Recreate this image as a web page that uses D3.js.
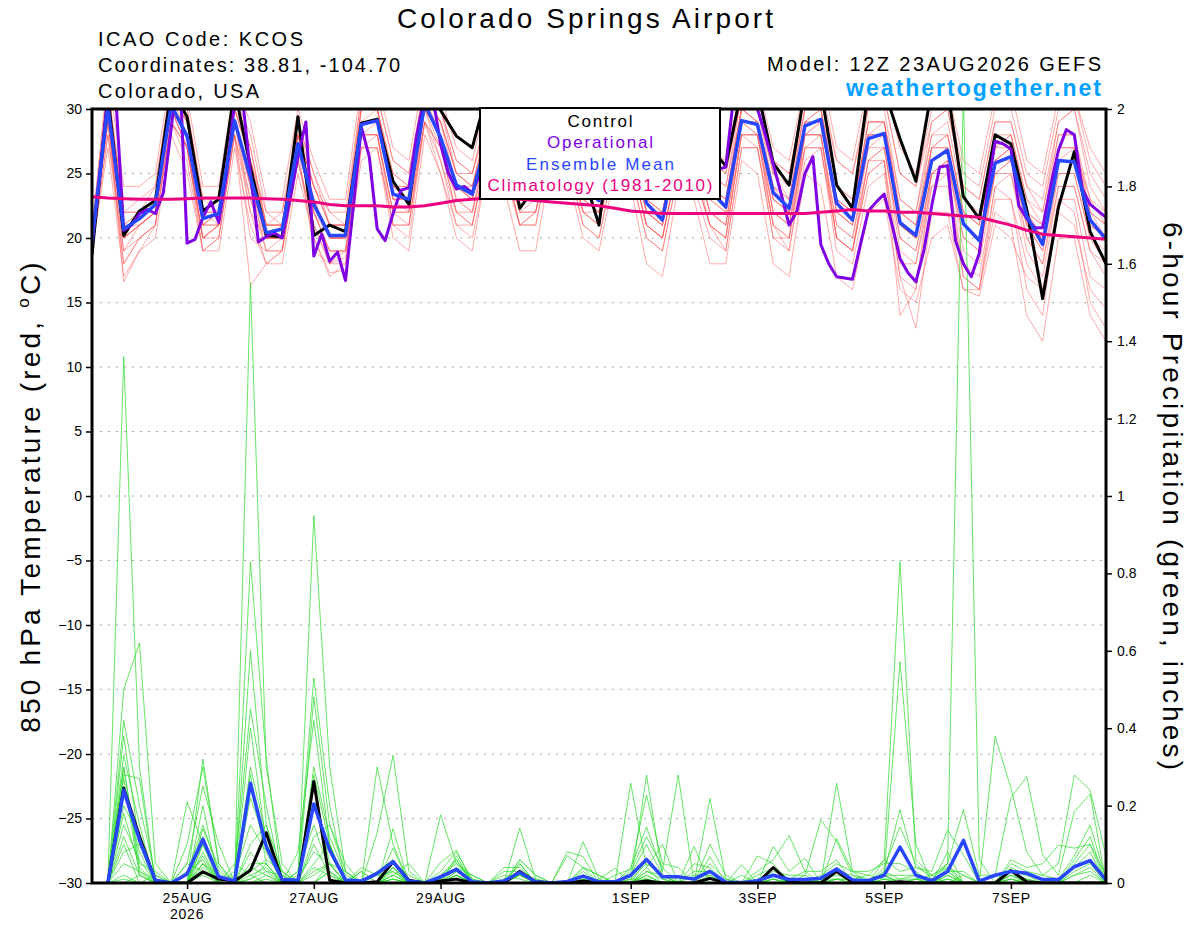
<!DOCTYPE html>
<html>
<head>
<meta charset="utf-8">
<script src="https://cdn.jsdelivr.net/npm/d3@7"></script>
<style>
  body { margin: 0; background: #fff; }
  svg text { font-family: "Liberation Sans", Arial, Helvetica, sans-serif; }
</style>
</head>
<body>
<div id="chart"></div>
<script>
// GEFS meteogram, 12Z run, 6-hourly steps (operational is 3-hourly)
const runStart = Date.UTC(2026, 7, 23, 12);

const tickDates = ["2026-08-25", "2026-08-27", "2026-08-29", "2026-09-01", "2026-09-03", "2026-09-05", "2026-09-07"];
const tickLabels = ["25AUG", "27AUG", "29AUG", "1SEP", "3SEP", "5SEP", "7SEP"];
const tempTicks = [-30, -25, -20, -15, -10, -5, 0, 5, 10, 15, 20, 25, 30];
const precipTicks = [0, 0.2, 0.4, 0.6, 0.8, 1, 1.2, 1.4, 1.6, 1.8, 2];
const legendItems = ["Control", "Operational", "Ensemble Mean", "Climatology (1981-2010)"];

// 850 hPa temperature, steps 0..64
const tempControl = [18.7,31,20.2,22.1,22.9,31.5,29.4,22.1,23.0,31.5,25.5,20.2,20.1,29.4,20.2,21.0,20.5,28.9,29.2,24.4,22.6,31.5,29.9,27.9,27.0,31.5,29,22.3,24,31,29.5,25,21.0,30.5,29.5,25.5,24.5,31,30.5,27,25.6,31.5,31.5,25.8,24.1,31.5,31.5,24.1,22.3,31.5,31.5,27.7,24.4,31.5,31.5,23.2,21.5,28.0,27.3,22.2,15.3,22.4,26.7,20.5,18.0];
const tempMean = [19.8,30.2,20.7,21.5,22.6,30.3,27.9,21.5,21.9,29.1,24.7,20.4,20.7,27.3,22.6,20.2,20.2,28.8,29.1,23.4,23.0,30.4,27.8,24.1,23.4,28,27,23.5,24,28.5,27.5,24,22.9,28,27.5,22.7,21.4,27.5,27,23.7,22.4,29.1,28.8,23.5,22.3,28.7,29.2,22.7,21.4,27.7,28.1,21.2,20.2,26.0,26.8,21.1,19.8,25.8,26.3,21.7,19.5,26.0,25.9,21.4,19.9];
const tempClimo = [23.2,23.1,23.05,23.0,23.0,23.0,23.05,23.1,23.1,23.1,23.1,23.05,23.0,22.9,22.8,22.6,22.5,22.5,22.5,22.4,22.4,22.5,22.7,22.9,23.0,23.1,23.1,23.0,22.9,22.8,22.7,22.6,22.5,22.3,22.1,22.0,21.9,21.9,21.9,21.9,21.9,21.9,21.9,21.9,21.9,21.9,22.0,22.1,22.2,22.1,22.1,22.0,22.0,21.9,21.8,21.7,21.6,21.3,21.0,20.6,20.3,20.2,20.1,20.0,19.9];
// operational, 3-hourly steps 0..128
const tempOperational = [19.5,25,31,31,20.6,21.0,21.9,22.2,21.9,23.5,28.5,34,19.6,19.9,21.6,22.8,21.2,25,30.5,30.8,25,19.7,20.1,20.4,20.0,23.0,26.3,29,18.6,20.3,18.2,18.9,16.7,22.5,28.6,26.3,20.7,19.8,21.9,23.7,23.9,28,31,31,27.3,25,23.8,24.0,23.5,25,28,31,31,29,26,25,24.5,25,28,31,31,29,27,25,24.5,25,28,31,31,29,27,25.5,24.5,25,28,31,31,28,26,25.3,25.5,31,32,31,30,28,25.7,23.4,21.0,22.1,25.0,26.3,19.5,18.0,17.0,16.9,16.8,19.5,22.1,22.8,23.4,21,18.4,17.3,16.6,19,22.5,25.5,25.6,19.8,18,17.0,18.8,23.5,27.5,27.3,26.9,22.5,21.5,20.8,20.8,24,26.8,28.4,28.0,23.8,22.6,22.1,21.6];

const tempMembers = [
  [20,31,22,23,24,32,30,23,23,31,28,22,22,29,25,22,22,31,31,26,25,32,30,26,25,30,29,25,26,30,30,26,25,30,30,25,24,30,30,26,25,31,31,26,25,31,32,26,25,31,31,25,24,30,31,25,24,30,30,25,24,30,31,26,24],
  [20.5,32,21,22,23,31,29,22,22,30,27,21,21,29,24,21,21,30,30,25,24,31,29,25,24,29,28,24,25,30,29,25,24,29,29,24,23,29,29,25,24,31,30,25,23,30,31,24,23,30,30,23,22,29,30,24,23,29,29,24,22,29,30,24,22],
  [19.5,30,20,21,22,30,28,21,21,29,25,20,20,28,23,20,20,29,29,24,23,30,28,24,23,28,27,23,24,29,28,24,23,28,28,23,22,28,28,24,23,30,29,24,23,29,30,23,22,29,29,22,21,27,28,22,21,27,28,23,21,27,27,23,21],
  [20,29,19,20,21,29,27,20,21,29,24,19,20,27,22,19,19,28,29,23,23,31,28,24,23,28,27,23,23,28,27,23,22,27,27,22,21,27,26,23,22,29,29,23,22,28,29,22,21,28,28,21,20,27,27,21,20,26,27,22,20,26,26,21,20],
  [19,28,18,20,21,29,26,19,20,28,22,18,19,26,21,18,18,28,28,22,21,30,26,22,22,27,26,22,23,28,27,23,22,27,26,21,20,26,26,22,21,28,28,22,21,27,28,21,20,26,27,20,19,25,26,20,19,25,26,21,19,25,25,20,19],
  [20.5,33,24,24,25,33,31,24,24,32,29,23,23,30,26,23,23,32,32,27,26,33,31,27,26,31,30,26,27,31,31,27,26,31,31,26,25,31,31,27,26,32,32,27,26,32,33,27,26,32,32,27,25,31,31.5,26,25,31,31.5,26,25,31,31,27,25],
  [19,27,17,19,20,28,25,19,19,27,21,18,18,25,20,17,18,26,27,21,20,29,25,21,20,26,25,21,21,27,26,21,20,26,25,20,19,25,24,20,19,27,27,20,19,26,27,20,19,25,26,18,18,24,25,18,17,24,25,19,17,24,24,19,18],
  [20,30,16.6,19,21,30,27,20,20,28,16.3,18,19,26,20,17.3,17.5,27,27,20,19,28,25,20,19,26,24,19,19,26,25,20,19,25,24,18,17,24,23,18,18,26,25,18,17,25,24,17,16,22,23,16,15,20,21,16,15.5,21,20,17,16,22,21,16,14.5],
  [20,31,22,22,23,31,29,22,23,30,26,21,22,28,24,21,21,30,30,24,24,31,29,25,25,29,28,24,24,29,28,24,23,29,28,23,22,28,28,24,23,30,29,24,22,29,29,23,22,29,29,22,21,27,28,22,21,27,27,22,21,26,27,22,21],
  [19.5,29,20,21,22,30,28,21,22,29,24,20,21,27,23,20,20,29,29,23,23,30,28,24,23,28,27,23,24,29,28,24,23,28,27,22,21,27,27,23,22,29,28,23,22,28,29,22,21,27,28,21,20,26,27,21,20,26,26,21,19,26,26,21,20],
  [20,31,23,23,23,31,30,23,22,30,26,22,21,28,24,22,21,30,30,25,24,31,30,25,24,29,28,25,25,29,29,25,24,29,29,24,23,29,29,25,24,30,30,25,24,30,30,24,23,28,29,23,22,28,29,23,22,27,28,23,22,28,28,23,22],
  [19,28,19,21,22,29,27,20,21,28,20,19,19,27,19,18,18.5,27,28,21,21,29,27,22,21,27,26,21,22,27,26,22,21,27,26,21,20,26,25,21,20,28,27,20,20,27,27,20,19,25,26,17,16,24,24,17,16,23,23,18,16,23,23,17,16],
  [20.5,32,22,22,24,32,29,22,22,31,27,21,21,29,25,21,21,31,31,26,25,32,30,26,25,30,29,25,26,30,29,26,25,30,30,25,24,30,30,26,25,31,31,26,25,31,31,26,25,30,31,25,24,29,30,24,23,29,29,24,23,29,30,25,23],
  [19.5,29,20,22,23,30,27,21,21,29,23,20,20,27,22,19,19,28,28,22,22,30,27,23,22,27,26,22,22,28,27,22,21,27,26,21,20,26,26,21,20,28,28,21,20,28,28,20,19,26,27,19,18,25,26,19,18,25,25,20,18,24,24,19,17],
  [20,30,21,22,22,31,28,21,22,29,25,21,21,28,23,20,20,29,30,24,23,31,29,24,24,28,27,24,24,29,28,24,23,28,28,23,22,28,27,24,23,30,29,23,22,29,30,23,22,28,28,21,20,27,27,21,20,26,27,22,20,27,27,22,20],
  [20,31,21,21,22,30,28,22,21,29,24,20,20,27,23,20,20,29,29,23,23,30,28,24,23,28,27,23,23,29,28,23,22,28,27,22,21,27,27,22,21,29,28,22,21,28,28,21,20,27,27,20,19,25,26,20,19,25,26,20,18,25,25,20,18],
  [19.5,30,20,21,22,30,28,20,21,29,25,20,20,28,22,20,20,29,29,23,22,30,28,23,22,28,27,22,22,28,27,22,22,28,27,22,21,27,27,22,21,29,29,22,21,29,29,22,21,28,28,21,20,26,27,21,20,26,27,21,20,26,26,21,20],
  [20,30,20,22,23,31,29,21,22,30,26,21,21,28,24,21,21,30,30,24,24,31,29,25,24,29,28,24,24,30,29,25,24,29,29,24,23,29,28,24,23,30,30,24,23,30,30,23,22,29,29,22,21,28,28,22,21,28,28,22,21,28,28,22,21],
  [19.5,29,18,20,21,29,27,19,20,28,23,19,19,26,21,18,19,27,27,21,21,29,26,21,21,27,26,21,21,27,26,21,20,26,25,20,19,25,25,21,19,27,27,21,19,27,27,19,18,24,25,17,13,22,22,16,16,22,21,14,12,20,20,14,12],
  [20,30,20,21,22,30,27,20,21,29,22,20,20,27,22,19,19,28,28,22,22,29,27,22,21,27,26,21,22,28,27,22,21,27,26,21,20,26,25,21,20,28,28,21,20,28,28,20,19,26,26,14,16,25,25,17,16,24,23,16,14,23,22,15,13]
];

// 6-hour precipitation (inches), steps 1..64
const precipControl = [0,0.245,0.12,0.005,0,0,0.029,0.01,0.005,0.033,0.13,0.007,0,0.262,0.007,0,0,0.003,0.055,0.007,0,0.005,0.01,0,0,0,0.03,0.003,0,0,0.005,0,0,0,0.005,0,0,0,0.012,0,0,0,0.04,0.002,0,0,0.03,0.002,0,0,0.003,0,0,0,0,0,0,0.032,0.003,0,0,0,0,0];
const precipMean = [0,0.24,0.111,0.007,0,0.023,0.113,0.016,0.005,0.258,0.094,0.009,0.007,0.204,0.085,0.008,0.005,0.025,0.055,0.005,0,0.016,0.035,0.003,0,0.005,0.027,0.003,0,0.004,0.018,0.003,0.003,0.02,0.061,0.016,0.016,0.01,0.03,0.002,0.001,0.006,0.02,0.009,0.009,0.012,0.036,0.008,0.006,0.02,0.093,0.02,0.006,0.03,0.11,0.005,0.02,0.03,0.025,0.009,0.009,0.042,0.058,0.008];
// one row per step, one entry per member (missing entries are dry)
const precipMembersByStep = [
  [],
  [1.36,0.5,0.42,0.38,0.33,0.3,0.28,0.25,0.2,0.18,0.15,0.12,0.1,0.08,0.05,0.02,0.01,0,0.3,0.27],
  [0.3,0.62,0.2,0.1,0.15,0.05,0.27,0.08,0.12,0.04,0.06,0.02,0,0.1,0.03,0,0,0.02,0.03,0.02],
  [0,0.05,0.02,0,0,0.03,0,0,0.01,0,0,0,0.02,0,0,0,0,0,0.01],
  [],
  [0.21,0,0.05,0,0.02,0,0.1,0,0,0.03,0,0,0,0.05],
  [0.1,0.32,0.25,0.2,0.15,0.12,0.3,0.1,0.08,0.06,0.05,0.04,0.14,0.03,0.02,0.1,0.05,0,0.07,0.05],
  [0.02,0.05,0.1,0,0.03,0,0.05,0.02,0,0,0.02,0,0.04],
  [0,0,0,0.03,0,0,0,0,0.02,0,0,0,0,0,0.05],
  [1.55,0.83,0.6,0.45,0.4,0.3,0.28,0.22,0.15,0.1,0.08,0.05,0.04,0.03,0.02,0.02,0.01,0,0.01],
  [0.3,0.32,0.15,0.2,0.1,0.12,0.05,0.1,0.08,0.15,0.03,0.05,0.02,0.06,0,0.04,0.03,0.02,0.05,0.01],
  [0.05,0,0.03,0,0.02,0,0,0.03,0,0,0.02,0,0,0.03],
  [0,0.03,0,0.08,0,0,0.02,0,0.03,0,0,0.01],
  [0.95,0.53,0.48,0.42,0.3,0.25,0.2,0.28,0.15,0.12,0.1,0.08,0.05,0.04,0.03,0,0,0.02],
  [0.3,0.2,0.15,0.1,0.12,0.05,0.08,0.1,0.03,0.15,0.02,0.05,0.1,0.02,0.05,0.03,0,0.05,0.05,0.03],
  [0.03,0,0.05,0,0.02,0,0,0,0,0.03,0,0,0,0,0.03],
  [0,0,0,0,0,0.03,0,0,0,0,0,0.04,0,0,0,0,0.03],
  [0.3,0.13,0,0,0.02,0,0,0.03,0,0,0,0.02],
  [0.1,0.33,0.14,0.09,0.06,0.05,0.04,0.06,0.03,0.04,0.02,0.03,0.04,0.02,0.01,0.02,0.01,0,0.01],
  [0,0.03,0,0,0,0.02,0,0,0,0,0.05],
  [],
  [0.176,0.053,0.03,0,0,0.02,0,0,0.02,0,0,0,0.01,0,0,0,0.01],
  [0.05,0.085,0.08,0.07,0.06,0.05,0.04,0.03,0.06,0.02,0.03,0.01,0.04,0.02,0.02,0,0.01,0.02,0.01],
  [0.02,0,0.01,0,0,0.01,0.02],
  [],
  [0,0,0,0.04,0,0.03,0,0,0.01,0,0,0.02],
  [0.142,0.06,0.05,0.04,0.06,0.03,0.02,0.05,0.03,0.02,0,0.01,0,0.02],
  [0.01,0.02,0,0,0.02,0,0,0,0.01],
  [],
  [0,0.081,0,0,0,0,0,0.07],
  [0.107,0.068,0.04,0.04,0.03,0,0.02,0.04,0,0,0.01,0,0,0,0.01],
  [0.01,0,0.02,0,0,0.01,0,0.02],
  [0.038,0,0,0.02],
  [0,0.258,0.04,0.036,0.02,0.03,0,0.01,0,0,0,0,0.01],
  [0.279,0.04,0.145,0.227,0.1,0.12,0.06,0.05,0.04,0.03,0.02,0.02,0.01,0.03,0.01,0,0.01],
  [0.02,0.1,0.03,0.05,0.02,0.04,0.01,0.02,0,0.01,0,0,0,0.02],
  [0,0,0.279,0.04],
  [0.094,0,0,0,0.05,0,0.03,0.02],
  [0,0.218,0.1,0.068,0.04,0.05,0.03,0.02,0.03,0.02,0.01,0,0.01],
  [0,0.01,0.02,0,0,0.01],
  [0.047,0,0,0.02],
  [0,0.03,0.07,0,0.02,0,0,0.01],
  [0.094,0.06,0.05,0.04,0.04,0.03,0.02,0.02,0.02,0.01,0.01,0,0.01],
  [0.03,0.123,0,0.01,0,0.02],
  [0.064,0.03,0.02,0.03,0,0.02,0.01,0,0,0.01],
  [0,0,0.163,0.03,0.02,0,0.01,0.01,0,0,0,0.01],
  [0.258,0.115,0.107,0.06,0.05,0.04,0.03,0.02,0.01,0.01,0.01,0.01],
  [0.03,0.03,0.02,0,0.03,0,0.02,0.01,0.01,0,0,0.01],
  [0.02,0,0,0,0.03,0,0.01,0.02],
  [0.06,0.02,0.03,0.04,0.05,0.06,0.02,0.01,0.03,0.02,0.02,0.01,0.02,0.01],
  [0.83,0.572,0.19,0.145,0.05,0.03,0.02,0.01,0.01],
  [0.06,0.1,0.04,0.05,0.03,0.04,0.02,0.02,0.01,0.01,0.01,0.01],
  [0.02,0,0.03,0.01,0,0.02,0,0,0.01,0.02],
  [0,0.05,0.137,0.03,0.04,0.05,0.08,0.03,0.05,0.04,0.03,0.02,0.02,0.01,0.01],
  [0.02,0.19,0.073,0.03,0.02,2.05],
  [0,0.02,0,0,0,0.06],
  [0.38,0.02],
  [0.245,0.22,0.06,0.05,0.04,0.03,0.03,0.02,0.02,0.02,0.01,0.01,0.01],
  [0.08,0.275,0.04,0.03,0.02,0.02,0.01,0.01],
  [0.02,0.073,0.05,0.02,0.01],
  [0.05,0.02,0.098,0.01],
  [0.279,0.184,0.09,0.07,0.06,0.05,0.04,0.03,0.02,0.02],
  [0.24,0.23,0.1,0.15,0.12,0.1,0.08,0.05,0.04,0.03,0.02],
  [0.07,0,0.02,0.01]
];

const width = 1200, height = 927;
const plot = { left: 92, right: 1106, top: 109, bottom: 883 };
const colors = { member: "#ff5050", precip: "#2bdb2b", control: "#000", oper: "#7f00e4", mean: "#2846ff", climo: "#ec0080", web: "#00a0ff" };

const hourMs = 3600 * 1000;
const stepTime = (i, hours) => new Date(runStart + i * hours * hourMs);

const x = d3.scaleUtc().domain([stepTime(0, 6), stepTime(64, 6)]).range([plot.left, plot.right]);
const yT = d3.scaleLinear().domain([-30, 30]).range([plot.bottom, plot.top]);
const yP = d3.scaleLinear().domain([0, 2]).range([plot.bottom, plot.top]);

const svg = d3.select("#chart").append("svg")
    .attr("width", width)
    .attr("height", height)
    .style("background", "#fff");

svg.append("clipPath").attr("id", "plotclip")
  .append("rect")
    .attr("x", plot.left).attr("y", plot.top)
    .attr("width", plot.right - plot.left).attr("height", plot.bottom - plot.top);

// dotted grid at the temperature ticks
svg.append("g").selectAll("line")
  .data(tempTicks.filter(v => v > -30 && v < 30))
  .enter().append("line")
    .attr("x1", plot.left).attr("x2", plot.right)
    .attr("y1", d => yT(d)).attr("y2", d => yT(d))
    .attr("stroke", "#a8a8a8")
    .attr("stroke-width", 1.2)
    .attr("stroke-dasharray", "2,6");

const lines = svg.append("g").attr("clip-path", "url(#plotclip)");

const tempLine = d3.line().x((d, i) => x(stepTime(i, 6))).y(d => yT(d));
const operLine = d3.line().x((d, i) => x(stepTime(i, 3))).y(d => yT(d));
const precipLine = d3.line().x((d, i) => x(stepTime(i + 1, 6))).y(d => yP(d));

const precipMembers = d3.range(20).map(m => precipMembersByStep.map(row => row[m] || 0));

lines.selectAll(".tmem").data(tempMembers).enter().append("path")
    .attr("d", tempLine)
    .attr("fill", "none")
    .attr("stroke", colors.member)
    .attr("stroke-opacity", 0.75)
    .attr("stroke-width", 0.65);

lines.selectAll(".pmem").data(precipMembers).enter().append("path")
    .attr("d", precipLine)
    .attr("fill", "none")
    .attr("stroke", colors.precip)
    .attr("stroke-opacity", 0.9)
    .attr("stroke-width", 0.8);

function addLine(data, gen, color, w) {
  lines.append("path")
    .datum(data)
    .attr("d", gen)
    .attr("fill", "none")
    .attr("stroke", color)
    .attr("stroke-width", w)
    .attr("stroke-linejoin", "round");
}

addLine(precipControl, precipLine, colors.control, 3);
addLine(precipMean, precipLine, colors.mean, 3.5);
addLine(tempControl, tempLine, colors.control, 3);
addLine(tempOperational, operLine, colors.oper, 3);
addLine(tempMean, tempLine, colors.mean, 3.5);
addLine(tempClimo, tempLine, colors.climo, 3);

// axes
const leftAxis = svg.append("g")
    .attr("transform", `translate(${plot.left},0)`)
    .call(d3.axisLeft(yT).tickValues(tempTicks).tickSize(6).tickPadding(4).tickFormat(d3.format("d")));
const rightAxis = svg.append("g")
    .attr("transform", `translate(${plot.right},0)`)
    .call(d3.axisRight(yP).tickValues(precipTicks).tickSize(6).tickPadding(5).tickFormat(d3.format("~g")));
const bottomAxis = svg.append("g")
    .attr("transform", `translate(0,${plot.bottom})`)
    .call(d3.axisBottom(x)
      .tickValues(tickDates.map(d => new Date(d + "T00:00:00Z")))
      .tickSize(6).tickPadding(4)
      .tickFormat((d, i) => tickLabels[i]));

[leftAxis, rightAxis, bottomAxis].forEach(g => {
  g.select(".domain").remove();
  g.selectAll(".tick line").attr("stroke", "#000").attr("stroke-width", 1.5);
  g.selectAll(".tick text").attr("fill", "#000").attr("font-size", 14)
    .attr("font-family", "'Liberation Sans', Arial, sans-serif");
});
bottomAxis.selectAll(".tick text").attr("letter-spacing", 0.8);

svg.append("text")
    .attr("x", x(new Date(tickDates[0] + "T00:00:00Z")))
    .attr("y", plot.bottom + 36)
    .attr("text-anchor", "middle")
    .attr("font-size", 14)
    .attr("letter-spacing", 0.8)
    .text("2026");

// frame
svg.append("rect")
    .attr("x", plot.left).attr("y", plot.top)
    .attr("width", plot.right - plot.left).attr("height", plot.bottom - plot.top)
    .attr("fill", "none")
    .attr("stroke", "#000")
    .attr("stroke-width", 3);

// axis titles
const leftTitle = svg.append("text")
    .attr("transform", `translate(40,${(plot.top + plot.bottom) / 2}) rotate(-90)`)
    .attr("text-anchor", "middle")
    .attr("font-size", 28)
    .attr("letter-spacing", 3.2);
leftTitle.append("tspan").text("850 hPa Temperature (red, ");
leftTitle.append("tspan").attr("font-size", 17).attr("dy", -11).text("o");
leftTitle.append("tspan").attr("dy", 11).text("C)");

svg.append("text")
    .attr("transform", `translate(1163,${(plot.top + plot.bottom) / 2}) rotate(90)`)
    .attr("text-anchor", "middle")
    .attr("font-size", 28)
    .attr("textLength", 548)
    .text("6-hour Precipitation (green, inches)");

// header
const header = [
  { t: "Colorado Springs Airport", x: 585, y: 28, size: 28, anchor: "middle", len: 376 },
  { t: "ICAO Code: KCOS", x: 98, y: 46, size: 20, anchor: "start", len: 205 },
  { t: "Coordinates: 38.81, -104.70", x: 98, y: 72, size: 20, anchor: "start", len: 302 },
  { t: "Colorado, USA", x: 98, y: 98, size: 20, anchor: "start", len: 161 },
  { t: "Model: 12Z 23AUG2026 GEFS", x: 1101, y: 71, size: 20, anchor: "end", len: 334 }
];
svg.append("g").selectAll("text").data(header).enter().append("text")
    .attr("x", d => d.x).attr("y", d => d.y)
    .attr("font-size", d => d.size)
    .attr("text-anchor", d => d.anchor)
    .attr("textLength", d => d.len)
    .text(d => d.t);

svg.append("text")
    .attr("x", 1101).attr("y", 96)
    .attr("text-anchor", "end")
    .attr("font-size", 23)
    .attr("font-weight", "bold")
    .attr("fill", colors.web)
    .attr("textLength", 255)
    .text("weathertogether.net");

// legend
const legend = svg.append("g");
legend.append("rect")
    .attr("x", 480).attr("y", 108)
    .attr("width", 240).attr("height", 91)
    .attr("fill", "#fff")
    .attr("stroke", "#000")
    .attr("stroke-width", 2);
const legendColors = [colors.control, colors.oper, colors.mean, colors.climo];
const legendLens = [65, 106, 148, 225];
legend.selectAll("text").data(legendItems).enter().append("text")
    .attr("x", 600)
    .attr("y", (d, i) => 127 + i * 21.4)
    .attr("text-anchor", "middle")
    .attr("font-size", 17)
    .attr("fill", (d, i) => legendColors[i])
    .attr("textLength", (d, i) => legendLens[i])
    .text(d => d);
</script>
</body>
</html>
